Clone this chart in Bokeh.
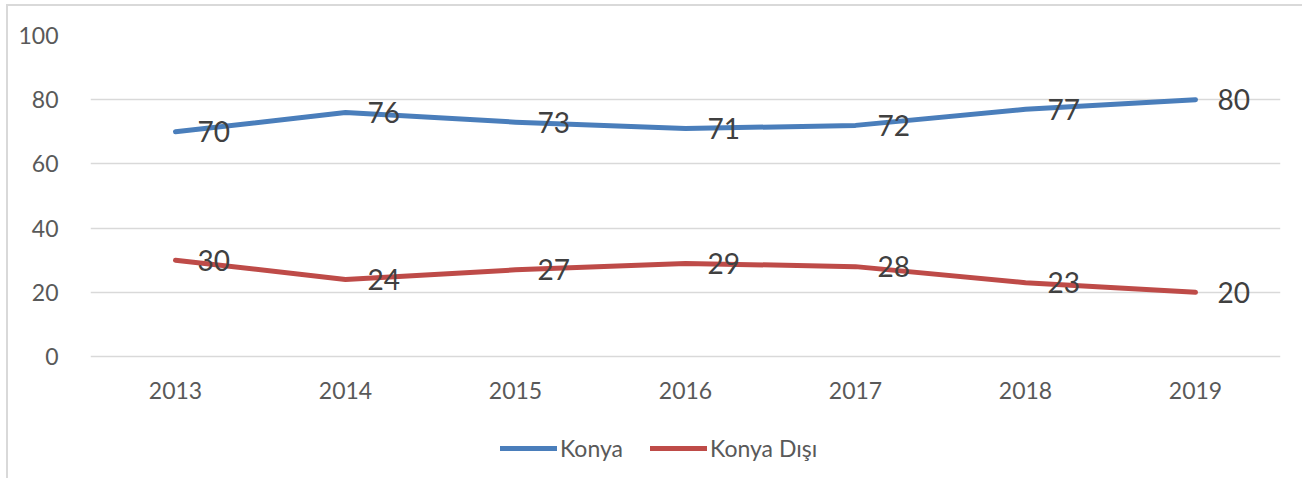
from bokeh.plotting import figure
from bokeh.models import ColumnDataSource, FactorRange, Range1d, Legend, LegendItem, FixedTicker
from bokeh.core.properties import value
from bokeh.embed import file_html
from bokeh.resources import INLINE

years = ["2013", "2014", "2015", "2016", "2017", "2018", "2019"]
konya = [70, 76, 73, 71, 72, 77, 80]
konya_disi = [30, 24, 27, 29, 28, 23, 20]
series_names = ["Konya", "Konya Dışı"]
y_ticks = [0, 20, 40, 60, 80, 100]

BLUE = "#4a7ebb"
RED = "#be4b48"
FONT = "Lato"

# the frame extends below 0 to hold the year labels and the legend
p = figure(width=1294, height=472, frame_width=1190, frame_height=443,
           x_range=FactorRange(*years, range_padding=0),
           y_range=Range1d(-38, 100), output_backend="svg", toolbar_location=None,
           x_axis_location=None,
           min_border_left=82, min_border_right=22, min_border_top=29, min_border_bottom=0)
p.styles = {"border-top": "2px solid #d9d9d9", "border-left": "2px solid #d9d9d9",
            "margin-top": "4px", "margin-left": "6px"}
p.x_range.range_padding = 0
p.outline_line_color = None

src = ColumnDataSource(dict(year=years, konya=konya, disi=konya_disi, base=[0] * len(years),
                            konya_lbl=[str(v) for v in konya], disi_lbl=[str(v) for v in konya_disi]))

r1 = p.line("year", "konya", source=src, line_color=BLUE, line_width=5, line_cap="round", line_join="round")
r2 = p.line("year", "disi", source=src, line_color=RED, line_width=5, line_cap="round", line_join="round")

for col in ["konya", "disi"]:
    p.text("year", col, text=col + "_lbl", source=src, x_offset=22, text_align="left",
           text_baseline="middle", text_font=value(FONT), text_font_size="28px", text_color="#404040")

# category (year) labels under the zero line
p.text("year", "base", text="year", source=src, y_offset=34, text_align="center",
       text_baseline="middle", text_font=value(FONT), text_font_size="23px", text_color="#595959")

p.yaxis.ticker = FixedTicker(ticks=y_ticks)
p.ygrid.ticker = FixedTicker(ticks=y_ticks)
p.ygrid.grid_line_color = "#d9d9d9"
p.ygrid.grid_line_width = 1.5
p.xgrid.grid_line_color = None

p.yaxis.major_tick_line_color = None
p.yaxis.minor_tick_line_color = None
p.yaxis.major_label_text_font = FONT
p.yaxis.major_label_text_font_size = "23px"
p.yaxis.major_label_text_color = "#595959"
p.yaxis.axis_line_color = None
p.yaxis.major_label_standoff = 26

legend = Legend(items=[LegendItem(label=series_names[0], renderers=[r1]),
                       LegendItem(label=series_names[1], renderers=[r2])],
                orientation="horizontal", location=(410, 16),
                label_text_font=FONT, label_text_font_size="23px", label_text_color="#595959",
                glyph_width=57, glyph_height=20, label_standoff=3, spacing=27,
                padding=0, margin=0, border_line_color=None, background_fill_alpha=0)
p.add_layout(legend, "center")

open("out.html", "w").write(file_html(p, INLINE))
